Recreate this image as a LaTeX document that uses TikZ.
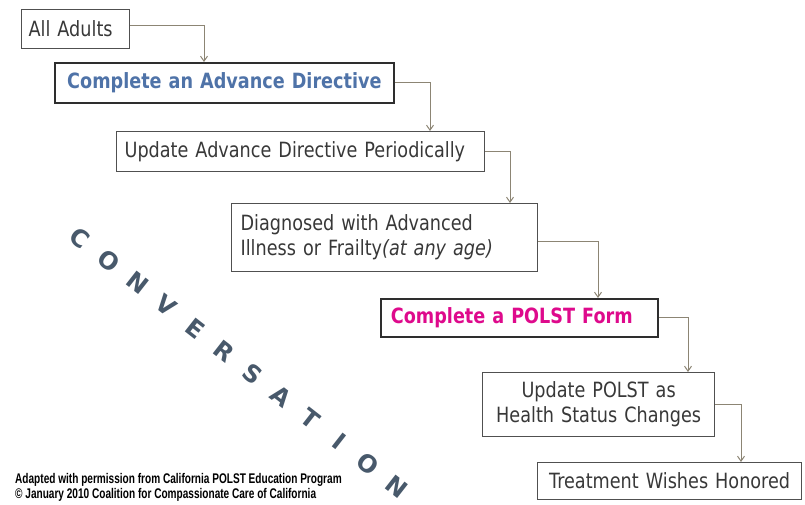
\documentclass[tikz,border=0pt]{standalone}
\usepackage{fontspec}
\newfontfamily\boxfont[FakeStretch=0.84]{DejaVu Sans}
\newfontfamily\convfont{DejaVu Sans}
\newfontfamily\notefont[FakeStretch=0.72]{Liberation Sans}
\usetikzlibrary{arrows.meta}
\definecolor{boxgray}{HTML}{505050}
\definecolor{keygray}{HTML}{2E2E2E}
\definecolor{textgray}{HTML}{383838}
\definecolor{linkgray}{HTML}{8C8574}
\definecolor{adblue}{HTML}{4F73A8}
\definecolor{polstpink}{HTML}{DE0A8C}
\definecolor{convgray}{HTML}{48596B}

\begin{document}
\begin{tikzpicture}
	[
		x = 1pt, y = -1pt,
		stepbox/.style = {draw=boxgray, line width=1.2pt, anchor=north west, inner ysep=0pt, text=textgray, font=\boxfont\fontsize{21}{25}\selectfont},
		keybox/.style = {stepbox, draw=keygray, line width=1.8pt, font=\boxfont\bfseries\fontsize{21}{25}\selectfont},
		link/.style = {draw=linkgray, line width=1pt, -{Straight Barb[length=5pt,width=7pt]}},
		convletter/.style = {text=convgray, inner sep=0pt, rotate=-38, font=\convfont\bfseries\fontsize{24}{24}\selectfont},
		note/.style = {anchor=base west, inner sep=0pt, font=\notefont\bfseries\fontsize{14}{15}\selectfont}]

	\useasboundingbox (0,0) rectangle (805,504);

	\node[stepbox, text width=94pt, inner xsep=7pt, minimum height=39pt, align=left] (adults) at (21,9) {All Adults};
	\node[keybox, text=adblue, text width=339pt, inner xsep=0pt, minimum height=40pt, align=center] (directive) at (54,62) {Complete an Advance Directive};
	\node[stepbox, text width=352pt, inner xsep=8pt, minimum height=40pt, align=left] (update) at (116,131) {Update Advance Directive Periodically};
	\node[stepbox, text width=288pt, inner xsep=9pt, minimum height=68pt, align=left] (diagnosed) at (231,203) {Diagnosed with Advanced\\Illness or Frailty\textit{(at any age)}};
	\node[keybox, text=polstpink, text width=257pt, inner xsep=10pt, minimum height=38pt, align=left] (polst) at (380,298) {Complete a POLST Form};
	\node[stepbox, text width=232pt, inner xsep=0pt, minimum height=64pt, align=center] (changes) at (482,372) {Update POLST as\\Health Status Changes};
	\node[stepbox, text width=264pt, inner xsep=0pt, minimum height=37pt, align=center] (honored) at (537,462) {Treatment Wishes Honored};

	\draw[link] ([yshift=4pt]adults.east) -| ([xshift=150pt]directive.north west);
	\draw[link] (directive.east) -| ([xshift=314pt]update.north west);
	\draw[link] (update.east) -| ([xshift=279pt]diagnosed.north west);
	\draw[link] ([yshift=-4pt]diagnosed.east) -| ([xshift=218pt]polst.north west);
	\draw[link] (polst.east) -| ([xshift=206pt]changes.north west);
	\draw[link] (changes.east) -| ([xshift=204pt]honored.north west);

	\foreach \ch [count=\i from 0] in {C,O,N,V,E,R,S,A,T,I,O,N}
		\node[convletter] (conv\i) at ({80+28.8*\i},{238+22.6*\i}) {\ch};

	\node[note] (note1) at (15,483) {Adapted with permission from California POLST Education Program};
	\node[note] (note2) at (15,498) {\textcopyright{} January 2010 Coalition for Compassionate Care of California};
\end{tikzpicture}
\end{document}
